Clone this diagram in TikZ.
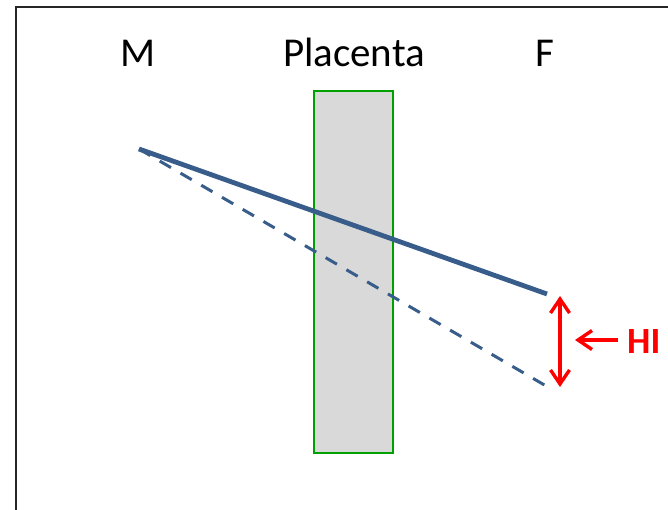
\documentclass[tikz,border=0pt]{standalone}
\usepackage{fontspec}
\setmainfont{Carlito}
\usetikzlibrary{arrows.meta}
\definecolor{lineblue}{HTML}{385D8A}
\definecolor{redarrow}{HTML}{FF0000}
\definecolor{placgreen}{HTML}{00A000}
\definecolor{placfill}{HTML}{D9D9D9}
\tikzset{
  lbl/.style={font=\fontsize{41}{41}\selectfont, text=black, inner sep=0pt, anchor=base},
  barrier/.style={draw=placgreen, fill=placfill, line width=2pt, minimum width=79pt, minimum height=362pt, inner sep=0pt},
  solidline/.style={draw=lineblue, line width=4.8pt},
  dashline/.style={draw=lineblue, line width=3pt, dash pattern=on 13pt off 11pt},
  redarr/.style={draw=redarrow, line width=3.4pt, -{Straight Barb[length=14pt, width=19pt, line width=3.4pt]}},
  frameline/.style={draw=black!85, line width=2pt}
}
\begin{document}
\begin{tikzpicture}[x=1pt, y=-1pt]
\useasboundingbox (0,0) rectangle (668,510);
\draw[frameline] (16,510) -- (16,7) -- (668,7);
\node[lbl] (M) at (138,67) {M};
\node[lbl] (P) at (354,67) {Placenta};
\node[lbl] (F) at (545,67) {F};
\node[barrier] (plac) at (353.5,272) {};
\coordinate (start) at (139,149);
\coordinate (solidend) at (547,294);
\coordinate (dashend) at (553,390);
\draw[dashline] (start) -- (dashend);
\draw[solidline] (start) -- (solidend);
\coordinate (top) at (560,296);
\coordinate (bot) at (560,387);
\draw[redarr, {Straight Barb[length=14pt, width=19pt, line width=3.4pt]}-{Straight Barb[length=14pt, width=19pt, line width=3.4pt]}] (top) -- (bot);
\node[font=\fontsize{37}{37}\selectfont\bfseries, text=redarrow, inner sep=0pt, anchor=west] (HI) at (627,342) {HI};
\coordinate (hitip) at (575,340);
\draw[redarr] (HI.west) ++(-9,-2) coordinate (hitail) (hitail) -- (hitip);
\end{tikzpicture}
\end{document}
